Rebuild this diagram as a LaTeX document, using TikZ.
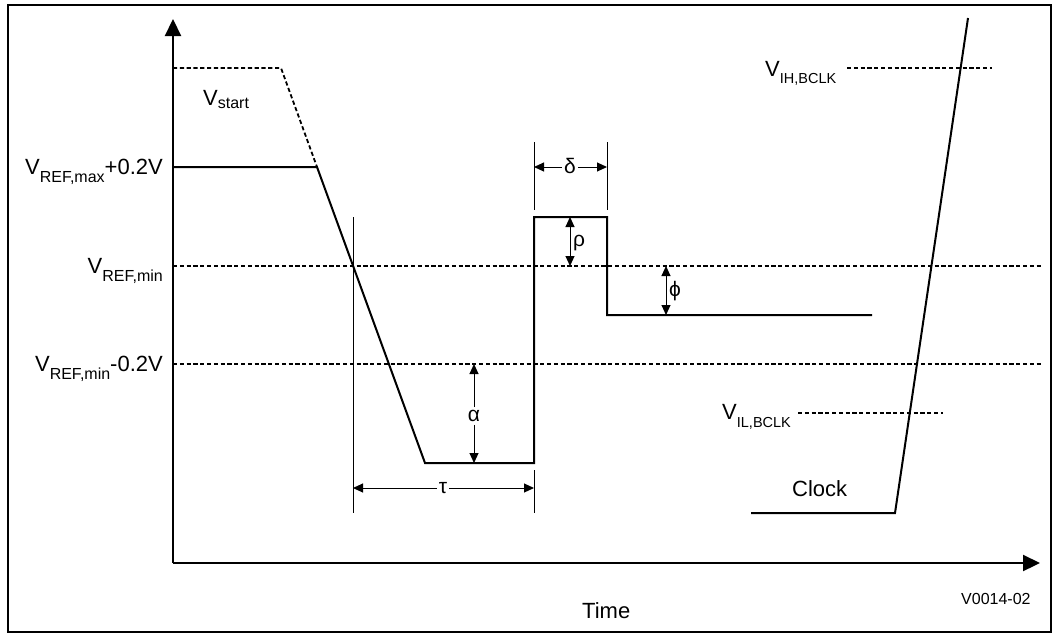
\documentclass[tikz,border=0pt]{standalone}
\usepackage{fontspec}
\setmainfont{Liberation Sans}
\usetikzlibrary{arrows.meta}
\newcommand\Vsb[3][-8pt]{V\raisebox{#1}{\fontsize{#2}{17}\selectfont #3}}
\begin{document}
\begin{tikzpicture}[x=1pt,y=-1pt,
  sig/.style={line width=2pt},
  thinln/.style={line width=1pt},
  dsh/.style={line width=1.8pt,dash pattern=on 4.2pt off 2.6pt},
  axis/.style={line width=2.2pt,-{Triangle[length=17pt,width=16pt]}},
  dim/.style={line width=1pt,-{Triangle[length=10pt,width=9pt]}},
  dimb/.style={line width=1pt,{Triangle[length=10pt,width=9pt]}-{Triangle[length=10pt,width=9pt]}},
  lbl/.style={font=\fontsize{22}{26}\selectfont,inner sep=0pt},
  grk/.style={font=\fontsize{21}{24}\selectfont,inner sep=2pt}]
\useasboundingbox (0,0) rectangle (1059,635);
\draw[line width=2.8pt] (8,5) rectangle (1051,632);

% axes
\coordinate (O) at (173,563);
\coordinate (Ytop) at (173,19);
\coordinate (Xend) at (1040,563);
\draw[axis] (O) -- (Ytop);
\draw[axis] (O) -- (Xend);

% reference levels
\coordinate (rmin0) at (173,266); \coordinate (rmin1) at (1041,266);
\coordinate (rmm0) at (173,364);  \coordinate (rmm1) at (1041,364);
\draw[dsh] (rmin0) -- (rmin1);
\draw[dsh] (rmm0) -- (rmm1);

% signal
\coordinate (vs0) at (173,68); \coordinate (vs1) at (281,68);
\coordinate (p0) at (173,167); \coordinate (p1) at (317,167);
\coordinate (p2) at (425,463); \coordinate (p3) at (534,463);
\coordinate (p4) at (534,217); \coordinate (p5) at (607,217);
\coordinate (p6) at (607,315); \coordinate (p7) at (872,315);
\draw[dsh] (vs0) -- (vs1) -- (p1);
\draw[sig] (p0) -- (p1) -- (p2) -- (p3) -- (p4) -- (p5) -- (p6) -- (p7);

% clock
\coordinate (c0) at (751,513); \coordinate (c1) at (895,513); \coordinate (c2) at (968,18);
\draw[sig] (c0) -- (c1) -- (c2);
\coordinate (ih0) at (847,68); \coordinate (ih1) at (992,68);
\coordinate (il0) at (798,413); \coordinate (il1) at (943,413);
\draw[dsh] (ih0) -- (ih1);
\draw[dsh] (il0) -- (il1);

% extension lines
\coordinate (tl0) at (353,217); \coordinate (tl1) at (353,513);
\coordinate (tr0) at (534,470); \coordinate (tr1) at (534,513);
\coordinate (dl0) at (534,142); \coordinate (dl1) at (534,210);
\coordinate (dr0) at (607,142); \coordinate (dr1) at (607,210);
\draw[thinln] (tl0) -- (tl1);
\draw[thinln] (tr0) -- (tr1);
\draw[thinln] (dl0) -- (dl1);
\draw[thinln] (dr0) -- (dr1);

% dimensions
\node[grk] (tau) at (443,488) {τ};
\coordinate (tauL) at (353,488); \coordinate (tauR) at (534,488);
\draw[dim] (tau.west) -- (tauL);
\draw[dim] (tau.east) -- (tauR);

\node[grk] (delta) at (570,166) {δ};
\coordinate (delL) at (534,167); \coordinate (delR) at (607,167);
\draw[dim] (delta.west |- delL) -- (delL);
\draw[dim] (delta.east |- delR) -- (delR);

\node[grk,inner sep=3pt] (alpha) at (474,416) {α};
\coordinate (alT) at (474,364); \coordinate (alB) at (474,463);
\draw[dim] (alpha.north) -- (alT);
\draw[dim] (alpha.south) -- (alB);

\coordinate (rhoT) at (570,217); \coordinate (rhoB) at (570,266);
\draw[dimb] (rhoT) -- (rhoB);
\node[grk,anchor=west] (rho) at (571,243) {ρ};

\coordinate (phiT) at (666,266); \coordinate (phiB) at (666,315);
\draw[dimb] (phiT) -- (phiB);
\node[grk,anchor=west] (phi) at (667,291) {ϕ};

% labels
\node[lbl,anchor=base east] (lrmax) at (163,174) {\Vsb{16}{REF,max}+0.2V};
\node[lbl,anchor=base east] (lrmin) at (163,273) {\Vsb{16}{REF,min}};
\node[lbl,anchor=base east] (lrmm) at (163,371) {\Vsb{16}{REF,min}-0.2V};
\node[lbl,anchor=base west] (lvs) at (203,105) {\Vsb[-3pt]{16}{start}};
\node[lbl,anchor=base west] (lih) at (765,76) {\Vsb[-7pt]{14.5}{IH,BCLK}};
\node[lbl,anchor=base west] (lil) at (722,419) {\Vsb{14.5}{IL,BCLK}};
\node[lbl,anchor=base west] (lclk) at (792,496) {Clock};
\node[lbl,anchor=base west] (ltime) at (582,618) {Time};
\node[lbl,anchor=base west,font=\fontsize{16}{18}\selectfont] (lid) at (961,604) {V0014-02};
\end{tikzpicture}
\end{document}
